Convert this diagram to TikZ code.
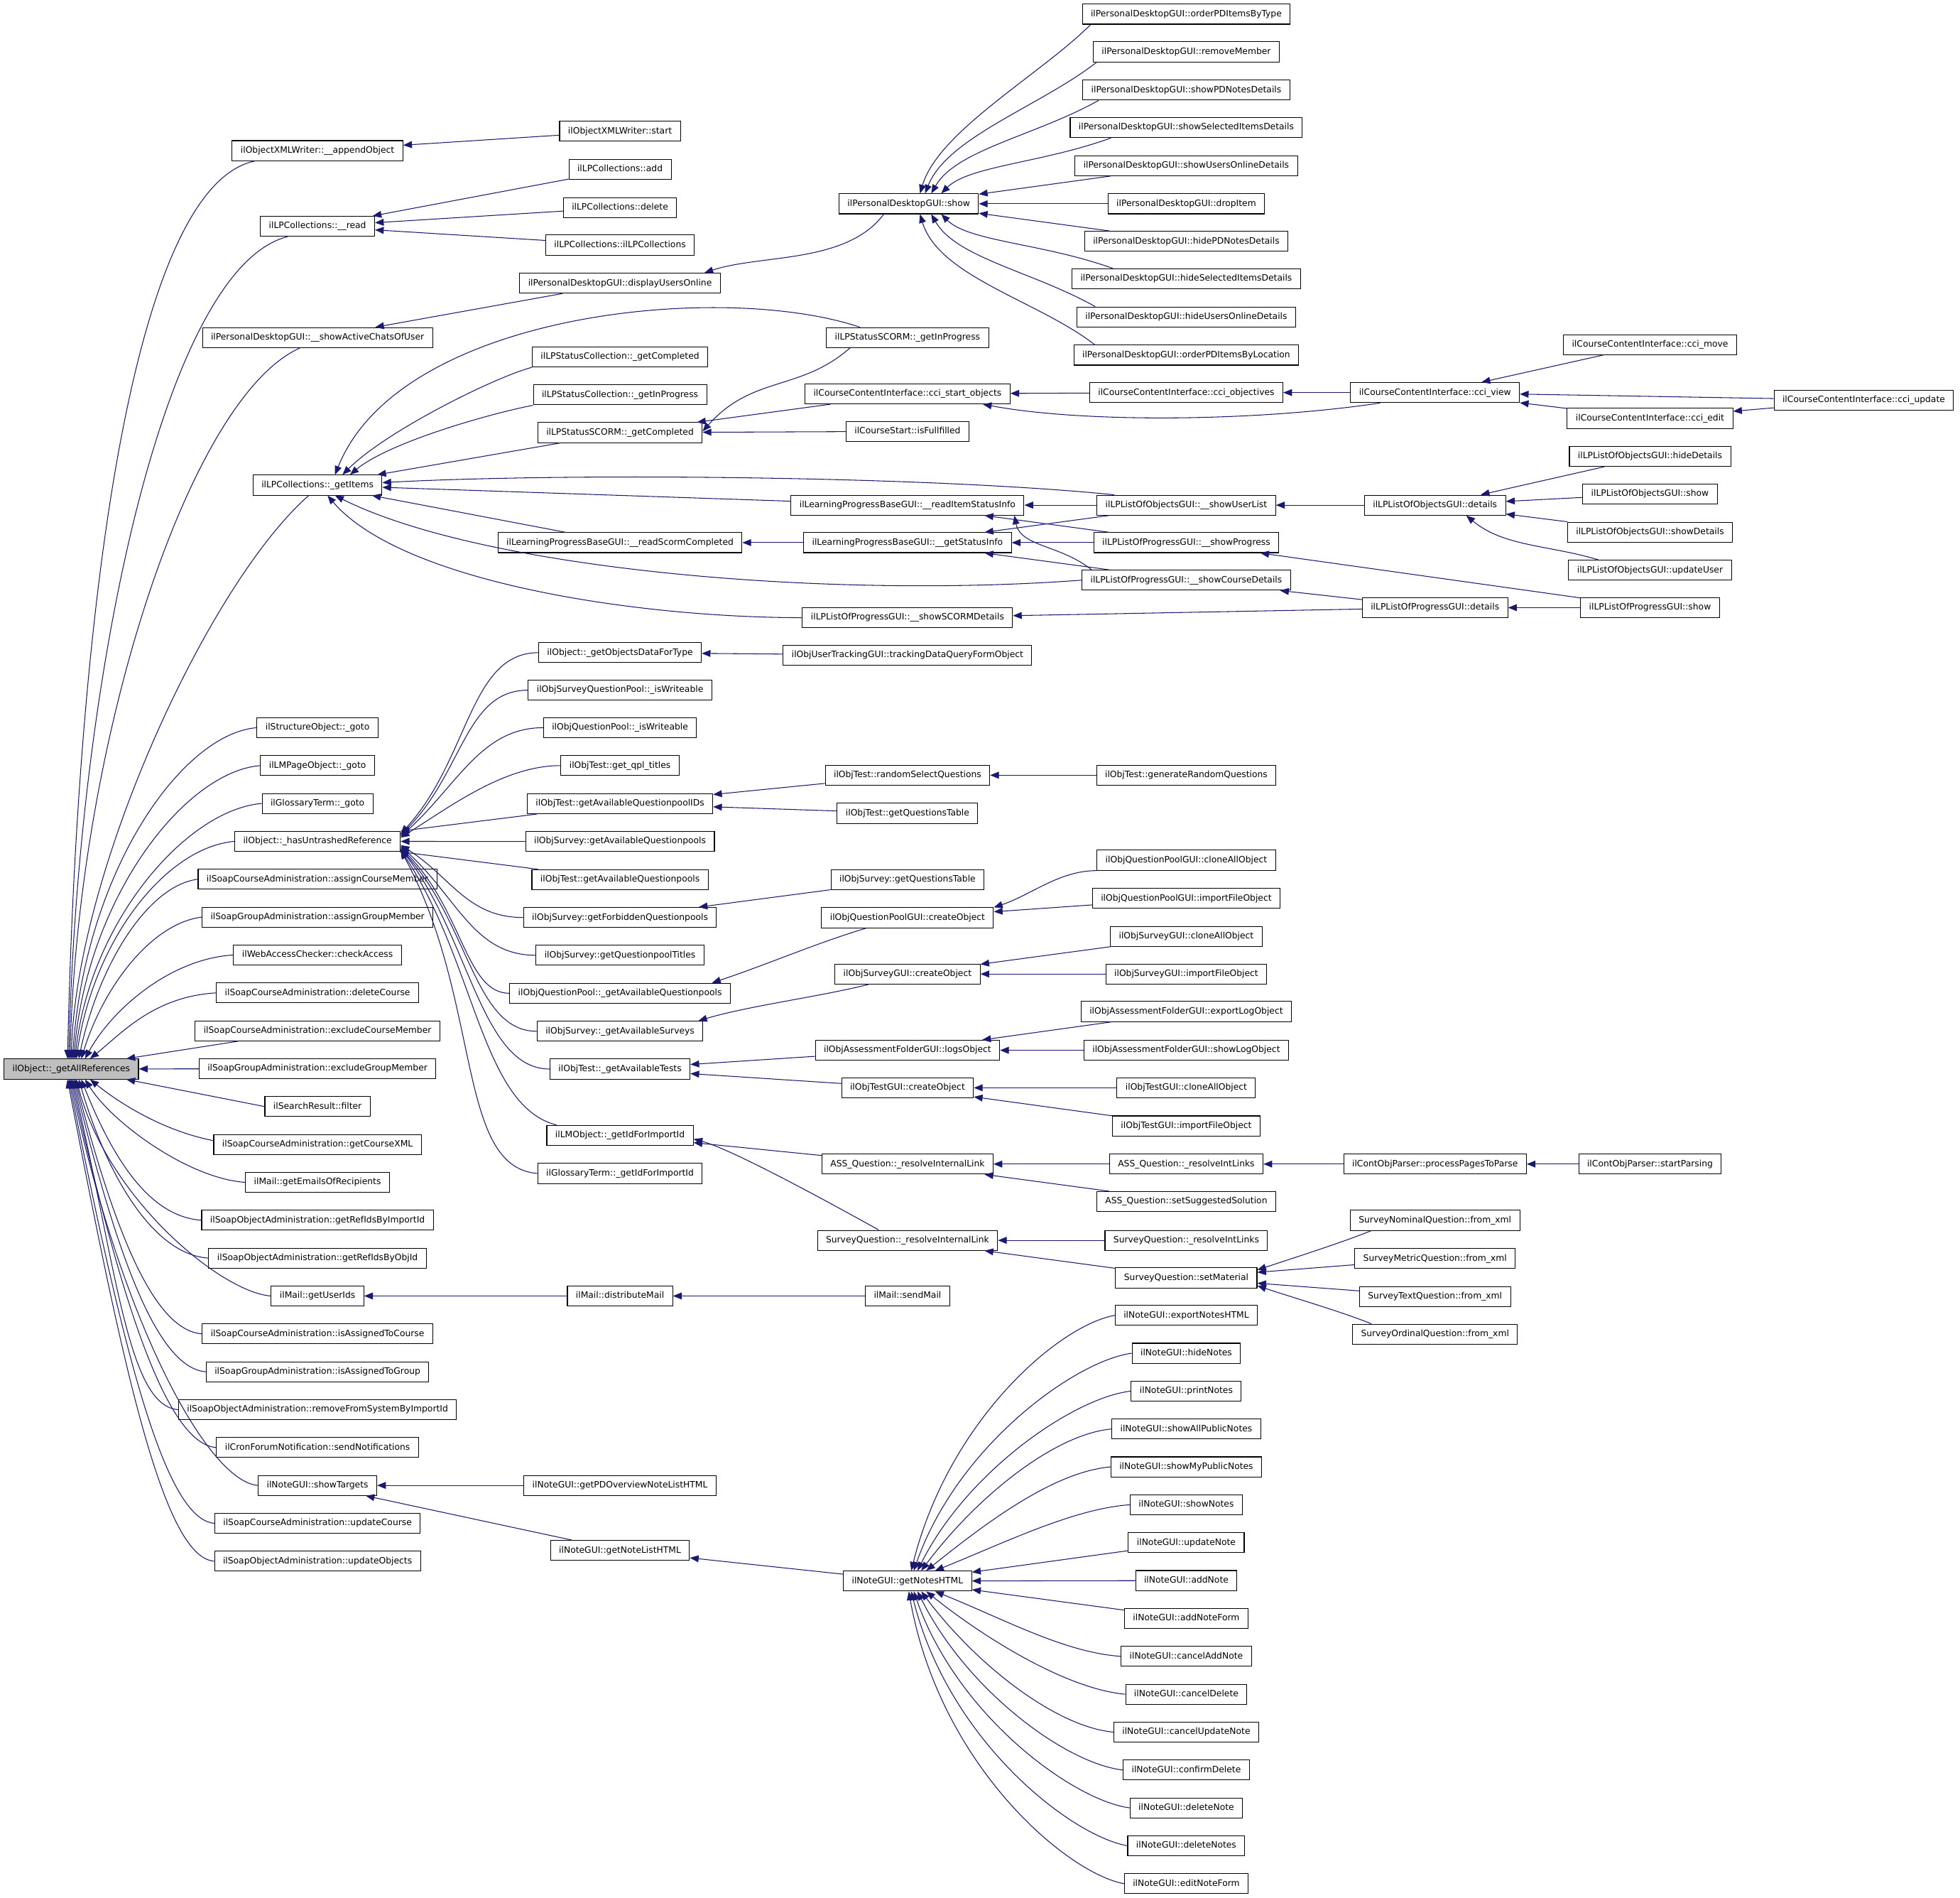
\documentclass[tikz,border=0pt]{standalone}
\usepackage{fontspec}
\usepackage{tikz}
\usetikzlibrary{arrows.meta}
\newfontfamily\graphfont{DejaVu Sans}
\definecolor{mynavy}{RGB}{25,25,112}
\definecolor{mygray}{RGB}{191,191,191}
\tikzset{
  fnbox/.style={rectangle, draw=black, fill=white, line width=0.6pt,
    font=\graphfont\fontsize{7}{8}\selectfont, inner xsep=6.8pt,
    inner ysep=0pt, minimum height=16pt, text height=5.3pt, text depth=1.5pt},
  rootbox/.style={fnbox, fill=mygray},
  callarrow/.style={-{Triangle[length=7pt, width=5.5pt]}, color=mynavy, line width=0.6pt}
}

\begin{document}
\begin{tikzpicture}[x=1pt, y=-1pt]
  \useasboundingbox (0,0) rectangle (1568,1518);

  % column 1
  \node[rootbox] (root) at (57, 855) {ilObject::\_getAllReferences};

  % column 2
  \node[fnbox] (appobj) at (254, 120.5) {ilObjectXMLWriter::\_\_appendObject};
  \node[fnbox] (lpcread) at (254, 181) {ilLPCollections::\_\_read};
  \node[fnbox] (chats) at (254, 270) {ilPersonalDesktopGUI::\_\_showActiveChatsOfUser};
  \node[fnbox] (getitems) at (254, 388) {ilLPCollections::\_getItems};
  \node[fnbox] (structgoto) at (254, 582) {ilStructureObject::\_goto};
  \node[fnbox] (lmgoto) at (254, 612.3) {ilLMPageObject::\_goto};
  \node[fnbox] (glossgoto) at (254, 642.6) {ilGlossaryTerm::\_goto};
  \node[fnbox] (untrashed) at (254, 672.9) {ilObject::\_hasUntrashedReference};
  \node[fnbox] (assigncm) at (254, 703.2) {ilSoapCourseAdministration::assignCourseMember};
  \node[fnbox] (assigngm) at (254, 733.5) {ilSoapGroupAdministration::assignGroupMember};
  \node[fnbox] (checkaccess) at (254, 763.8) {ilWebAccessChecker::checkAccess};
  \node[fnbox] (delcourse) at (254, 794.1) {ilSoapCourseAdministration::deleteCourse};
  \node[fnbox] (exclcm) at (254, 824.4) {ilSoapCourseAdministration::excludeCourseMember};
  \node[fnbox] (exclgm) at (254, 854.7) {ilSoapGroupAdministration::excludeGroupMember};
  \node[fnbox] (filter) at (254, 885) {ilSearchResult::filter};
  \node[fnbox] (coursexml) at (254, 915.3) {ilSoapCourseAdministration::getCourseXML};
  \node[fnbox] (emails) at (254, 945.6) {ilMail::getEmailsOfRecipients};
  \node[fnbox] (refimport) at (254, 975.9) {ilSoapObjectAdministration::getRefIdsByImportId};
  \node[fnbox] (refobj) at (254, 1006.2) {ilSoapObjectAdministration::getRefIdsByObjId};
  \node[fnbox] (userids) at (254, 1036.5) {ilMail::getUserIds};
  \node[fnbox] (isasscourse) at (254, 1066.8) {ilSoapCourseAdministration::isAssignedToCourse};
  \node[fnbox] (isassgroup) at (254, 1097.1) {ilSoapGroupAdministration::isAssignedToGroup};
  \node[fnbox] (removesys) at (254, 1127.4) {ilSoapObjectAdministration::removeFromSystemByImportId};
  \node[fnbox] (sendnotif) at (254, 1157.7) {ilCronForumNotification::sendNotifications};
  \node[fnbox] (showtargets) at (254, 1188) {ilNoteGUI::showTargets};
  \node[fnbox] (updcourse) at (254, 1218.3) {ilSoapCourseAdministration::updateCourse};
  \node[fnbox] (updobjects) at (254, 1248.6) {ilSoapObjectAdministration::updateObjects};

  % column 3
  \node[fnbox] (xmlstart) at (496, 105) {ilObjectXMLWriter::start};
  \node[fnbox] (lpcadd) at (496, 135.5) {ilLPCollections::add};
  \node[fnbox] (lpcdel) at (496, 166) {ilLPCollections::delete};
  \node[fnbox] (lpcctor) at (496, 196) {ilLPCollections::ilLPCollections};
  \node[fnbox] (usersonline) at (496, 226.5) {ilPersonalDesktopGUI::displayUsersOnline};
  \node[fnbox] (collcompl) at (496, 285.5) {ilLPStatusCollection::\_getCompleted};
  \node[fnbox] (collprog) at (496, 315.8) {ilLPStatusCollection::\_getInProgress};
  \node[fnbox] (scormcompl) at (496, 346) {ilLPStatusSCORM::\_getCompleted};
  \node[fnbox] (readscorm) at (496, 434) {ilLearningProgressBaseGUI::\_\_readScormCompleted};
  \node[fnbox] (objdata) at (496, 522) {ilObject::\_getObjectsDataForType};
  \node[fnbox] (sqpwrite) at (496, 552) {ilObjSurveyQuestionPool::\_isWriteable};
  \node[fnbox] (qpwrite) at (496, 582) {ilObjQuestionPool::\_isWriteable};
  \node[fnbox] (qpltitles) at (496, 612.3) {ilObjTest::get\_qpl\_titles};
  \node[fnbox] (qpids) at (496, 642.8) {ilObjTest::getAvailableQuestionpoolIDs};
  \node[fnbox] (svavail) at (496, 673) {ilObjSurvey::getAvailableQuestionpools};
  \node[fnbox] (tstavail) at (496, 703.5) {ilObjTest::getAvailableQuestionpools};
  \node[fnbox] (svforbid) at (496, 733.8) {ilObjSurvey::getForbiddenQuestionpools};
  \node[fnbox] (svtitles) at (496, 764) {ilObjSurvey::getQuestionpoolTitles};
  \node[fnbox] (qpavail) at (496, 794.4) {ilObjQuestionPool::\_getAvailableQuestionpools};
  \node[fnbox] (svsurveys) at (496, 824.8) {ilObjSurvey::\_getAvailableSurveys};
  \node[fnbox] (tsttests) at (496, 855) {ilObjTest::\_getAvailableTests};
  \node[fnbox] (lmimport) at (496, 908) {ilLMObject::\_getIdForImportId};
  \node[fnbox] (glossimport) at (496, 938.5) {ilGlossaryTerm::\_getIdForImportId};
  \node[fnbox] (distmail) at (496, 1036.5) {ilMail::distributeMail};
  \node[fnbox] (pdoverview) at (496, 1188) {ilNoteGUI::getPDOverviewNoteListHTML};
  \node[fnbox] (notelist) at (496, 1240) {ilNoteGUI::getNoteListHTML};

  % column 4
  \node[fnbox] (pdshow) at (727, 163) {ilPersonalDesktopGUI::show};
  \node[fnbox] (scormprog) at (726, 270) {ilLPStatusSCORM::\_getInProgress};
  \node[fnbox] (ccistart) at (726, 315) {ilCourseContentInterface::cci\_start\_objects};
  \node[fnbox] (isfull) at (726, 345) {ilCourseStart::isFullfilled};
  \node[fnbox] (readitem) at (726, 404) {ilLearningProgressBaseGUI::\_\_readItemStatusInfo};
  \node[fnbox] (getstatus) at (726, 434) {ilLearningProgressBaseGUI::\_\_getStatusInfo};
  \node[fnbox] (scormdet) at (726, 494) {ilLPListOfProgressGUI::\_\_showSCORMDetails};
  \node[fnbox] (trackquery) at (726, 524) {ilObjUserTrackingGUI::trackingDataQueryFormObject};
  \node[fnbox] (randsel) at (726, 620) {ilObjTest::randomSelectQuestions};
  \node[fnbox] (tstqtable) at (726, 650.5) {ilObjTest::getQuestionsTable};
  \node[fnbox] (svqtable) at (726, 703.5) {ilObjSurvey::getQuestionsTable};
  \node[fnbox] (qpguicreate) at (726, 734) {ilObjQuestionPoolGUI::createObject};
  \node[fnbox] (svguicreate) at (726, 779) {ilObjSurveyGUI::createObject};
  \node[fnbox] (logsobj) at (726, 840) {ilObjAssessmentFolderGUI::logsObject};
  \node[fnbox] (tstguicreate) at (726, 870) {ilObjTestGUI::createObject};
  \node[fnbox] (assresolve) at (726, 931) {ASS\_Question::\_resolveInternalLink};
  \node[fnbox] (svresolve) at (726, 992) {SurveyQuestion::\_resolveInternalLink};
  \node[fnbox] (sendmail) at (726, 1036.5) {ilMail::sendMail};
  \node[fnbox] (noteshtml) at (726, 1264.5) {ilNoteGUI::getNotesHTML};

  % column 5
  \node[fnbox] (pdtype) at (949, 11.3) {ilPersonalDesktopGUI::orderPDItemsByType};
  \node[fnbox] (pdremove) at (949, 41.5) {ilPersonalDesktopGUI::removeMember};
  \node[fnbox] (pdshownotes) at (949, 72) {ilPersonalDesktopGUI::showPDNotesDetails};
  \node[fnbox] (pdshowsel) at (949, 102) {ilPersonalDesktopGUI::showSelectedItemsDetails};
  \node[fnbox] (pdshowusers) at (949, 132.5) {ilPersonalDesktopGUI::showUsersOnlineDetails};
  \node[fnbox] (pddrop) at (949, 163) {ilPersonalDesktopGUI::dropItem};
  \node[fnbox] (pdhidenotes) at (949, 193) {ilPersonalDesktopGUI::hidePDNotesDetails};
  \node[fnbox] (pdhidesel) at (949, 223) {ilPersonalDesktopGUI::hideSelectedItemsDetails};
  \node[fnbox] (pdhideusers) at (949, 253.5) {ilPersonalDesktopGUI::hideUsersOnlineDetails};
  \node[fnbox] (pdlocation) at (949, 284) {ilPersonalDesktopGUI::orderPDItemsByLocation};
  \node[fnbox] (cciobj) at (949, 314) {ilCourseContentInterface::cci\_objectives};
  \node[fnbox] (showuserlist) at (949, 404) {ilLPListOfObjectsGUI::\_\_showUserList};
  \node[fnbox] (showprogress) at (949, 434) {ilLPListOfProgressGUI::\_\_showProgress};
  \node[fnbox] (showcourse) at (949, 464) {ilLPListOfProgressGUI::\_\_showCourseDetails};
  \node[fnbox] (genrand) at (949, 620) {ilObjTest::generateRandomQuestions};
  \node[fnbox] (qpclone) at (949, 688) {ilObjQuestionPoolGUI::cloneAllObject};
  \node[fnbox] (qpimport) at (949, 718.5) {ilObjQuestionPoolGUI::importFileObject};
  \node[fnbox] (svclone) at (949, 749) {ilObjSurveyGUI::cloneAllObject};
  \node[fnbox] (svimport) at (949, 779) {ilObjSurveyGUI::importFileObject};
  \node[fnbox] (exportlog) at (949, 809) {ilObjAssessmentFolderGUI::exportLogObject};
  \node[fnbox] (showlog) at (949, 840) {ilObjAssessmentFolderGUI::showLogObject};
  \node[fnbox] (tstclone) at (949, 870) {ilObjTestGUI::cloneAllObject};
  \node[fnbox] (tstimport) at (949, 900.5) {ilObjTestGUI::importFileObject};
  \node[fnbox] (assintlinks) at (949, 931) {ASS\_Question::\_resolveIntLinks};
  \node[fnbox] (asssugg) at (949, 961) {ASS\_Question::setSuggestedSolution};
  \node[fnbox] (svintlinks) at (949, 992) {SurveyQuestion::\_resolveIntLinks};
  \node[fnbox] (setmat) at (949, 1022) {SurveyQuestion::setMaterial};
  \node[fnbox] (exportnotes) at (949, 1052) {ilNoteGUI::exportNotesHTML};
  \node[fnbox] (hidenotes) at (949, 1082.3) {ilNoteGUI::hideNotes};
  \node[fnbox] (printnotes) at (949, 1112.6) {ilNoteGUI::printNotes};
  \node[fnbox] (showallpub) at (949, 1142.9) {ilNoteGUI::showAllPublicNotes};
  \node[fnbox] (showmypub) at (949, 1173.2) {ilNoteGUI::showMyPublicNotes};
  \node[fnbox] (shownotes) at (949, 1203.5) {ilNoteGUI::showNotes};
  \node[fnbox] (updatenote) at (949, 1233.8) {ilNoteGUI::updateNote};
  \node[fnbox] (addnote) at (949, 1264.1) {ilNoteGUI::addNote};
  \node[fnbox] (addnoteform) at (949, 1294.4) {ilNoteGUI::addNoteForm};
  \node[fnbox] (canceladd) at (949, 1324.7) {ilNoteGUI::cancelAddNote};
  \node[fnbox] (canceldel) at (949, 1355) {ilNoteGUI::cancelDelete};
  \node[fnbox] (cancelupd) at (949, 1385.3) {ilNoteGUI::cancelUpdateNote};
  \node[fnbox] (confirmdel) at (949, 1415.6) {ilNoteGUI::confirmDelete};
  \node[fnbox] (deletenote) at (949, 1445.9) {ilNoteGUI::deleteNote};
  \node[fnbox] (deletenotes) at (949, 1476.2) {ilNoteGUI::deleteNotes};
  \node[fnbox] (editnote) at (949, 1506.5) {ilNoteGUI::editNoteForm};

  % column 6
  \node[fnbox] (ccview) at (1148, 314) {ilCourseContentInterface::cci\_view};
  \node[fnbox] (loldetails) at (1148, 404) {ilLPListOfObjectsGUI::details};
  \node[fnbox] (lopdetails) at (1148, 486) {ilLPListOfProgressGUI::details};
  \node[fnbox] (processpages) at (1148, 931) {ilContObjParser::processPagesToParse};
  \node[fnbox] (nominal) at (1148, 976) {SurveyNominalQuestion::from\_xml};
  \node[fnbox] (metric) at (1148, 1006.5) {SurveyMetricQuestion::from\_xml};
  \node[fnbox] (textq) at (1148, 1037) {SurveyTextQuestion::from\_xml};
  \node[fnbox] (ordinal) at (1148, 1067) {SurveyOrdinalQuestion::from\_xml};

  % column 7 and 8
  \node[fnbox] (ccimove) at (1320, 275.6) {ilCourseContentInterface::cci\_move};
  \node[fnbox] (cciedit) at (1320, 334.6) {ilCourseContentInterface::cci\_edit};
  \node[fnbox] (lolhide) at (1320, 365) {ilLPListOfObjectsGUI::hideDetails};
  \node[fnbox] (lolshow) at (1320, 395) {ilLPListOfObjectsGUI::show};
  \node[fnbox] (lolshowdet) at (1320, 425.6) {ilLPListOfObjectsGUI::showDetails};
  \node[fnbox] (lolupdate) at (1320, 456) {ilLPListOfObjectsGUI::updateUser};
  \node[fnbox] (lopshow) at (1320, 486) {ilLPListOfProgressGUI::show};
  \node[fnbox] (startparsing) at (1320, 931) {ilContObjParser::startParsing};
  \node[fnbox] (cciupdate) at (1491, 320) {ilCourseContentInterface::cci\_update};

  % callers of the root, above it
  \draw[callarrow] ([xshift=-50pt]appobj.south) .. controls +(-100,20) and +(8,-350) .. ([xshift=-3pt]root.north);
  \draw[callarrow] ([xshift=-24pt]lpcread.south) .. controls +(-100,25) and +(7,-300) .. ([xshift=-2pt]root.north);
  \draw[callarrow] ([xshift=-14pt]chats.south) .. controls +(-90,40) and +(6,-250) .. ([xshift=-1pt]root.north);
  \draw[callarrow] ([xshift=-7pt]getitems.south) .. controls +(-80,70) and +(4,-150) .. (root.north);
  \draw[callarrow] (structgoto.west) .. controls +(-60,5) and +(10,-150) .. ([xshift=1pt]root.north);
  \draw[callarrow] (lmgoto.west) .. controls +(-60,5) and +(11,-130) .. ([xshift=2pt]root.north);
  \draw[callarrow] (glossgoto.west) .. controls +(-60,5) and +(12,-110) .. ([xshift=3pt]root.north);
  \draw[callarrow] (untrashed.west) .. controls +(-55,5) and +(14,-95) .. ([xshift=4pt]root.north);
  \draw[callarrow] (assigncm.west) .. controls +(-40,5) and +(16,-75) .. ([xshift=6pt]root.north);
  \draw[callarrow] (assigngm.west) .. controls +(-40,5) and +(18,-58) .. ([xshift=8pt]root.north);
  \draw[callarrow] (checkaccess.west) .. controls +(-50,3) and +(22,-40) .. ([xshift=11pt]root.north);
  \draw[callarrow] (delcourse.west) .. controls +(-50,3) and +(25,-20) .. ([xshift=15pt]root.north);
  \draw[callarrow] ([xshift=35pt]exclcm.south west) -- ([xshift=-10pt]root.north east);
  \draw[callarrow] (exclgm) -- (root);

  % callers of the root, below it
  \draw[callarrow] (filter.west) -- ([xshift=-10pt]root.south east);
  \draw[callarrow] ([yshift=3pt]coursexml.west) .. controls +(-40,-8) and +(25,20) .. ([xshift=15pt]root.south);
  \draw[callarrow] (emails.west) .. controls +(-45,-3) and +(22,35) .. ([xshift=11pt]root.south);
  \draw[callarrow] (refimport.west) .. controls +(-45,-3) and +(22,55) .. ([xshift=8pt]root.south);
  \draw[callarrow] (refobj.west) .. controls +(-45,-3) and +(22,75) .. ([xshift=6pt]root.south);
  \draw[callarrow] (userids.west) .. controls +(-40,-3) and +(25,95) .. ([xshift=4pt]root.south);
  \draw[callarrow] (isasscourse.west) .. controls +(-40,-3) and +(30,115) .. ([xshift=3pt]root.south);
  \draw[callarrow] (isassgroup.west) .. controls +(-40,-3) and +(33,135) .. ([xshift=2pt]root.south);
  \draw[callarrow] (removesys.west) .. controls +(-40,-3) and +(36,155) .. ([xshift=1pt]root.south);
  \draw[callarrow] (sendnotif.west) .. controls +(-40,-3) and +(39,175) .. (root.south);
  \draw[callarrow] (showtargets.west) .. controls +(-40,-3) and +(41,195) .. ([xshift=-1pt]root.south);
  \draw[callarrow] (updcourse.west) .. controls +(-40,-3) and +(43,215) .. ([xshift=-2pt]root.south);
  \draw[callarrow] (updobjects.west) .. controls +(-40,-3) and +(45,235) .. ([xshift=-3pt]root.south);

  % top group
  \draw[callarrow] (xmlstart) -- (appobj);
  \draw[callarrow] (lpcadd) -- (lpcread);
  \draw[callarrow] (lpcdel) -- (lpcread);
  \draw[callarrow] (lpcctor) -- (lpcread);
  \draw[callarrow] (usersonline) -- (chats);
  \draw[callarrow] ([xshift=-20pt]pdshow.south) .. controls +(-30,40) and +(45,-15) .. ([xshift=-13pt]usersonline.north east);

  % personal desktop
  \draw[callarrow] ([xshift=7pt]pdtype.south west) .. controls +(-40,40) and +(15,-50) .. ([xshift=9pt]pdshow.north);
  \draw[callarrow] ([xshift=3pt]pdremove.south west) .. controls +(-45,35) and +(18,-45) .. ([xshift=13pt]pdshow.north);
  \draw[callarrow] ([xshift=13pt]pdshownotes.south west) .. controls +(-50,28) and +(20,-35) .. ([xshift=18pt]pdshow.north);
  \draw[callarrow] ([xshift=33pt]pdshowsel.south west) .. controls +(-55,20) and +(22,-22) .. ([xshift=26pt]pdshow.north);
  \draw[callarrow] (pdshowusers) -- (pdshow);
  \draw[callarrow] (pddrop) -- (pdshow);
  \draw[callarrow] (pdhidenotes) -- (pdshow);
  \draw[callarrow] ([xshift=33pt]pdhidesel.north west) .. controls +(-55,-20) and +(22,22) .. ([xshift=26pt]pdshow.south);
  \draw[callarrow] ([xshift=15pt]pdhideusers.north west) .. controls +(-50,-28) and +(20,35) .. ([xshift=18pt]pdshow.south);
  \draw[callarrow] ([xshift=17pt]pdlocation.north west) .. controls +(-45,-35) and +(15,50) .. ([xshift=9pt]pdshow.south);

  % learning progress
  \draw[callarrow] ([xshift=-38pt]scormprog.north) .. controls +(-110,-37) and +(52,-130) .. ([xshift=14pt]getitems.north);
  \draw[callarrow] (collcompl.south west) .. controls +(-30,8) and +(35,-35) .. ([xshift=20pt]getitems.north);
  \draw[callarrow] (collprog.south west) .. controls +(-40,8) and +(30,-25) .. ([xshift=26pt]getitems.north);
  \draw[callarrow] (scormcompl) -- (getitems);
  \draw[callarrow] (readitem) -- (getitems);
  \draw[callarrow] ([xshift=14pt]showuserlist.north west) .. controls +(-150,-15) and +(150,-8) .. ([yshift=2pt]getitems.east);
  \draw[callarrow] (readscorm) -- (getitems);
  \draw[callarrow] (showcourse.west) .. controls +(-200,15) and +(120,60) .. ([xshift=14pt]getitems.south);
  \draw[callarrow] (scormdet.west) .. controls +(-130,0) and +(60,70) .. ([xshift=8pt]getitems.south);
  \draw[callarrow] ([xshift=-46pt]scormprog.south) .. controls +(-40,35) and +(40,-45) .. ([yshift=1pt]scormcompl.east);
  \draw[callarrow] (ccistart) -- (scormcompl);
  \draw[callarrow] (isfull) -- (scormcompl);
  \draw[callarrow] (cciobj) -- (ccistart);
  \draw[callarrow] ([xshift=24pt]ccview.south west) .. controls +(-100,15) and +(80,15) .. ([xshift=-22pt]ccistart.south east);
  \draw[callarrow] (ccview) -- (cciobj);
  \draw[callarrow] (ccimove) -- (ccview);
  \draw[callarrow] (cciupdate) -- (ccview);
  \draw[callarrow] (cciedit) -- (ccview);
  \draw[callarrow] (cciupdate) -- (cciedit);
  \draw[callarrow] (showuserlist) -- (readitem);
  \draw[callarrow] (showprogress) -- (readitem);
  \draw[callarrow] ([xshift=8pt]showcourse.north west) .. controls +(-25,-20) and +(5,25) .. ([xshift=-8pt]readitem.south east);
  \draw[callarrow] (showuserlist) -- (getstatus);
  \draw[callarrow] (showprogress) -- (getstatus);
  \draw[callarrow] (showcourse) -- (getstatus);
  \draw[callarrow] (getstatus) -- (readscorm);
  \draw[callarrow] (loldetails) -- (showuserlist);
  \draw[callarrow] (lolhide) -- (loldetails);
  \draw[callarrow] (lolshow) -- (loldetails);
  \draw[callarrow] (lolshowdet) -- (loldetails);
  \draw[callarrow] ([xshift=24pt]lolupdate.north west) .. controls +(-40,-12) and +(30,25) .. ([xshift=25pt]loldetails.south);
  \draw[callarrow] (lopshow) -- (showprogress);
  \draw[callarrow] (lopdetails) -- (showcourse);
  \draw[callarrow] (lopdetails) -- (scormdet);
  \draw[callarrow] (lopshow) -- (lopdetails);

  % callers of hasUntrashedReference
  \draw[callarrow] (objdata.west) .. controls +(-55,0) and +(55,-60) .. ([yshift=6pt]untrashed.east);
  \draw[callarrow] (sqpwrite.west) .. controls +(-50,0) and +(50,-50) .. ([yshift=5pt]untrashed.east);
  \draw[callarrow] (qpwrite.west) .. controls +(-50,0) and +(45,-40) .. ([yshift=4pt]untrashed.east);
  \draw[callarrow] (qpltitles.west) .. controls +(-45,0) and +(40,-25) .. ([yshift=3pt]untrashed.east);
  \draw[callarrow] (qpids) -- (untrashed);
  \draw[callarrow] (svavail) -- (untrashed);
  \draw[callarrow] (tstavail) -- (untrashed);
  \draw[callarrow] (svforbid.west) .. controls +(-45,0) and +(40,25) .. ([yshift=-3pt]untrashed.east);
  \draw[callarrow] (svtitles.west) .. controls +(-50,0) and +(45,40) .. ([yshift=-4pt]untrashed.east);
  \draw[callarrow] (qpavail.west) .. controls +(-35,0) and +(50,50) .. ([yshift=-5pt]untrashed.east);
  \draw[callarrow] (svsurveys.west) .. controls +(-50,0) and +(55,60) .. ([yshift=-6pt]untrashed.east);
  \draw[callarrow] (tsttests.west) .. controls +(-55,0) and +(55,70) .. ([yshift=-6pt]untrashed.east);
  \draw[callarrow] ([xshift=8pt]lmimport.north west) .. controls +(-60,-15) and +(60,90) .. ([yshift=-7pt]untrashed.east);
  \draw[callarrow] (glossimport.west) .. controls +(-65,-5) and +(65,120) .. ([yshift=-7pt]untrashed.east);

  % tests, surveys and pools
  \draw[callarrow] (trackquery) -- (objdata);
  \draw[callarrow] (randsel) -- (qpids);
  \draw[callarrow] (tstqtable) -- (qpids);
  \draw[callarrow] (genrand) -- (randsel);
  \draw[callarrow] (svqtable) -- (svforbid);
  \draw[callarrow] ([xshift=-33pt]qpguicreate.south) .. controls +(-40,12) and +(45,-15) .. ([xshift=-15pt]qpavail.north east);
  \draw[callarrow] (qpclone.south west) .. controls +(-30,0) and +(30,-10) .. (qpguicreate.north east);
  \draw[callarrow] (qpimport) -- (qpguicreate);
  \draw[callarrow] ([xshift=-31pt]svguicreate.south) .. controls +(-40,10) and +(40,-12) .. ([xshift=-4pt]svsurveys.north east);
  \draw[callarrow] (svclone) -- (svguicreate);
  \draw[callarrow] (svimport) -- (svguicreate);
  \draw[callarrow] (logsobj) -- (tsttests);
  \draw[callarrow] (tstguicreate) -- (tsttests);
  \draw[callarrow] (exportlog) -- (logsobj);
  \draw[callarrow] (showlog) -- (logsobj);
  \draw[callarrow] (tstclone) -- (tstguicreate);
  \draw[callarrow] (tstimport) -- (tstguicreate);

  % internal links
  \draw[callarrow] (assresolve) -- (lmimport);
  \draw[callarrow] ([xshift=-23pt]svresolve.north) .. controls +(-45,-25) and +(30,8) .. ([yshift=-3pt]lmimport.east);
  \draw[callarrow] (assintlinks) -- (assresolve);
  \draw[callarrow] (asssugg) -- (assresolve);
  \draw[callarrow] (processpages) -- (assintlinks);
  \draw[callarrow] (startparsing) -- (processpages);
  \draw[callarrow] (svintlinks) -- (svresolve);
  \draw[callarrow] (setmat) -- (svresolve);
  \draw[callarrow] ([xshift=-51pt]nominal.south) .. controls +(-25,10) and +(30,-10) .. ([yshift=-2pt]setmat.north east);
  \draw[callarrow] (metric) -- (setmat);
  \draw[callarrow] (textq) -- (setmat);
  \draw[callarrow] ([xshift=-51pt]ordinal.north) .. controls +(-25,-10) and +(30,10) .. ([yshift=2pt]setmat.south east);

  % mail and notes
  \draw[callarrow] (distmail) -- (userids);
  \draw[callarrow] (sendmail) -- (distmail);
  \draw[callarrow] (pdoverview) -- (showtargets);
  \draw[callarrow] (notelist) -- (showtargets);
  \draw[callarrow] (noteshtml) -- (notelist);
  \draw[callarrow] (exportnotes.west) .. controls +(-45,8) and +(30,-120) .. ([xshift=3pt]noteshtml.north);
  \draw[callarrow] (hidenotes.west) .. controls +(-45,6) and +(35,-100) .. ([xshift=5pt]noteshtml.north);
  \draw[callarrow] (printnotes.west) .. controls +(-45,5) and +(40,-80) .. ([xshift=8pt]noteshtml.north);
  \draw[callarrow] (showallpub.west) .. controls +(-45,4) and +(45,-60) .. ([xshift=11pt]noteshtml.north);
  \draw[callarrow] (showmypub.west) .. controls +(-45,4) and +(50,-40) .. ([xshift=15pt]noteshtml.north);
  \draw[callarrow] (shownotes.west) .. controls +(-45,3) and +(55,-22) .. ([xshift=22pt]noteshtml.north);
  \draw[callarrow] (updatenote) -- (noteshtml);
  \draw[callarrow] (addnote) -- (noteshtml);
  \draw[callarrow] (addnoteform) -- (noteshtml);
  \draw[callarrow] (canceladd.west) .. controls +(-45,-3) and +(55,22) .. ([xshift=22pt]noteshtml.south);
  \draw[callarrow] (canceldel.west) .. controls +(-45,-4) and +(50,40) .. ([xshift=15pt]noteshtml.south);
  \draw[callarrow] (cancelupd.west) .. controls +(-45,-4) and +(45,60) .. ([xshift=11pt]noteshtml.south);
  \draw[callarrow] (confirmdel.west) .. controls +(-45,-5) and +(40,80) .. ([xshift=8pt]noteshtml.south);
  \draw[callarrow] (deletenote.west) .. controls +(-45,-6) and +(35,100) .. ([xshift=5pt]noteshtml.south);
  \draw[callarrow] (deletenotes.west) .. controls +(-45,-8) and +(30,120) .. ([xshift=3pt]noteshtml.south);
  \draw[callarrow] (editnote.west) .. controls +(-45,-8) and +(25,140) .. ([xshift=1pt]noteshtml.south);
\end{tikzpicture}
\end{document}
